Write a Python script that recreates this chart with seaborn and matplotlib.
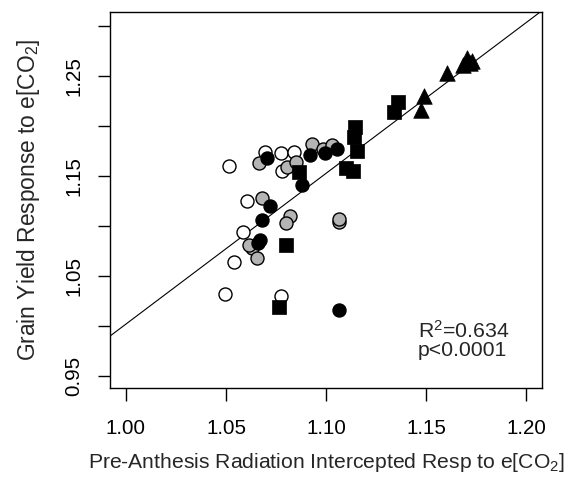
import numpy as np
import pandas as pd
import matplotlib
matplotlib.use("Agg")
import matplotlib.pyplot as plt
import seaborn as sns

# ---- data ----
open_x = [1.0515, 1.0605, 1.0585, 1.0540, 1.0495, 1.0775, 1.0695, 1.0775, 1.0840, 1.0780]
open_y = [1.1597, 1.1255, 1.0937, 1.0640, 1.0317, 1.0297, 1.1737, 1.1727, 1.1737, 1.1547]

gray_x = [1.0665, 1.0805, 1.0850, 1.0680, 1.0930, 1.0985, 1.1030, 1.0820, 1.0800, 1.0630, 1.0655, 1.1065, 1.1065, 1.0615]
gray_y = [1.1627, 1.1587, 1.1637, 1.1277, 1.1817, 1.1767, 1.1807, 1.1097, 1.1027, 1.0777, 1.0677, 1.1037, 1.1067, 1.0807]

black_x = [1.0705, 1.0880, 1.0720, 1.0920, 1.0995, 1.1055, 1.0680, 1.0670, 1.0660, 1.1065]
black_y = [1.1677, 1.1407, 1.1197, 1.1707, 1.1727, 1.1767, 1.1057, 1.0857, 1.0827, 1.0157]

sq_x = [1.0865, 1.0800, 1.0765, 1.1145, 1.1140, 1.1155, 1.1100, 1.1135, 1.1360, 1.1340]
sq_y = [1.1537, 1.0807, 1.0187, 1.1987, 1.1887, 1.1747, 1.1577, 1.1547, 1.2237, 1.2137]

tri_x = [1.1490, 1.1475, 1.1605, 1.1705, 1.1685, 1.1720, 1.1730]
tri_y = [1.2297, 1.2157, 1.2527, 1.2677, 1.2607, 1.2627, 1.2647]

fit_intercept = -0.505
fit_slope = 1.507

r2_text = "R$^2$=0.634"
p_text = "p<0.0001"

x_ticks = [1.00, 1.05, 1.10, 1.15, 1.20]
x_ticklabels = ["1.00", "1.05", "1.10", "1.15", "1.20"]
y_ticks = [0.95, 1.00, 1.05, 1.10, 1.15, 1.20, 1.25, 1.30]
y_ticklabels = ["0.95", "", "1.05", "", "1.15", "", "1.25", ""]

# ---- plotting ----
sns.set_style("ticks")
plt.rcParams['font.family'] = ['Liberation Sans', 'DejaVu Sans']
plt.rcParams['mathtext.fontset'] = 'custom'
plt.rcParams['mathtext.rm'] = 'Liberation Sans'
plt.rcParams['mathtext.it'] = 'Liberation Sans'

fig = plt.figure(figsize=(5.72, 4.84), dpi=100)
ax = fig.add_axes([0.1923, 0.1983, 0.7553, 0.7767])

ax.axline((0, fit_intercept), slope=fit_slope, color="black", lw=0.8, zorder=1)

ms = 88
sns.scatterplot(x=open_x, y=open_y, ax=ax, marker="o", s=ms, color="white",
                edgecolor="black", linewidth=1.0, zorder=2)
sns.scatterplot(x=gray_x, y=gray_y, ax=ax, marker="o", s=ms, color="#b4b4b4",
                edgecolor="black", linewidth=1.0, zorder=3)
sns.scatterplot(x=black_x, y=black_y, ax=ax, marker="o", s=ms, color="black",
                edgecolor="black", linewidth=1.0, zorder=4)
sns.scatterplot(x=sq_x, y=sq_y, ax=ax, marker="s", s=115, color="black",
                edgecolor="black", linewidth=0.5, zorder=5)
sns.scatterplot(x=tri_x, y=tri_y, ax=ax, marker="^", s=125, color="black",
                edgecolor="black", linewidth=0.5, zorder=6)

ax.set_xlim(0.992, 1.208)
ax.set_ylim(0.938, 1.314)
ax.set_xticks(x_ticks)
ax.set_xticklabels(x_ticklabels)
ax.set_yticks(y_ticks)
ax.set_yticklabels(y_ticklabels, rotation=90, va="center")

for s in ax.spines.values():
    s.set_visible(True)
    s.set_linewidth(1.0)
    s.set_color("black")

ax.tick_params(axis="both", direction="out", length=9, width=1.0, labelsize=14.8,
               colors="black")
ax.tick_params(axis="x", pad=13)
ax.tick_params(axis="y", pad=10)

ax.set_xlabel("Pre-Anthesis Radiation Intercepted Resp to e[CO$_2$]", fontsize=15.2, labelpad=10)
ax.set_ylabel("Grain Yield Response to e[CO$_2$]", fontsize=16.4, labelpad=16)

ax.text(1.146, 0.9887, r2_text, fontsize=15.3, va="baseline")
ax.text(1.146, 0.9697, p_text, fontsize=15.3, va="baseline")

fig.savefig("out.png", dpi=100)
